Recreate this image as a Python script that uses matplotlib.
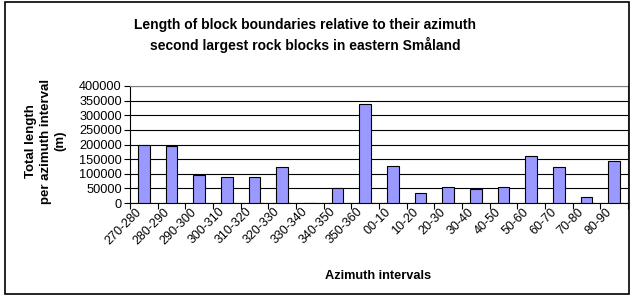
import matplotlib
matplotlib.use("Agg")
import matplotlib.pyplot as plt
import numpy as np

categories = ["270-280", "280-290", "290-300", "300-310", "310-320", "320-330",
              "330-340", "340-350", "350-360", "00-10", "10-20", "20-30",
              "30-40", "40-50", "50-60", "60-70", "70-80", "80-90"]
values = [198000, 194000, 97000, 88000, 90000, 124000,
          0, 50000, 340000, 126000, 34000, 55000,
          48000, 55000, 161000, 123000, 22000, 145000]
yticks = [0, 50000, 100000, 150000, 200000, 250000, 300000, 350000, 400000]

plt.rcParams['font.family'] = ['Liberation Sans', 'DejaVu Sans']

fig = plt.figure(figsize=(6.3, 2.96), dpi=100)
# outer border
fig.patches.append(plt.Rectangle((0.008, 0.008), 0.99, 0.985, transform=fig.transFigure,
                                 fill=False, edgecolor='black', linewidth=1.2))

W, H = 630, 296
left, right, top, bottom = 130, 628, 86, 203
ax = fig.add_axes([left / W, 1 - bottom / H, (right - left) / W, (bottom - top) / H])

x = np.arange(len(categories))
ax.bar(x, values, width=0.43, color='#9999FF', edgecolor='black', linewidth=0.8, zorder=3)

ax.set_xlim(-0.5, len(categories) - 0.5)
ax.set_ylim(0, 400000)
ax.set_yticks(yticks)
ax.set_yticklabels([str(v) for v in yticks], fontsize=9.2)
ax.yaxis.grid(True, color='black', linewidth=0.8, zorder=0)
ax.set_axisbelow(True)

ax.set_xticks(np.arange(len(categories) + 1) - 0.5)
ax.set_xticklabels([])
ax.set_xticks(x, minor=True)
ax.set_xticklabels(categories, minor=True, rotation=45, ha='right', va='top',
                   fontsize=9)
ax.tick_params(axis='x', which='minor', length=0, pad=2)
ax.tick_params(axis='x', which='major', length=4, direction='out', width=0.8)
ax.tick_params(axis='y', length=4, direction='out', width=0.8, pad=2)

for s in ['top', 'right']:
    ax.spines[s].set_color('#808080')
    ax.spines[s].set_linewidth(0.8)
ax.spines['left'].set_color('black')
ax.spines['bottom'].set_color('black')
ax.spines['left'].set_linewidth(0.8)
ax.spines['bottom'].set_linewidth(0.8)

fig.text(305 / W, 1 - 25 / H, "Length of block boundaries relative to their azimuth",
         ha='center', va='center', fontsize=10, fontweight='bold')
fig.text(305 / W, 1 - 45 / H, "second largest rock blocks in eastern Småland",
         ha='center', va='center', fontsize=10, fontweight='bold')

fig.text(46 / W, 1 - 141 / H, "Total length\nper azimuth interval\n(m)", rotation=90,
         ha='center', va='center', fontsize=9.5, fontweight='bold', linespacing=1.3)
fig.text(378 / W, 1 - 276 / H, "Azimuth intervals", ha='center', va='center',
         fontsize=9.2, fontweight='bold')

fig.savefig("out.png", dpi=100)
